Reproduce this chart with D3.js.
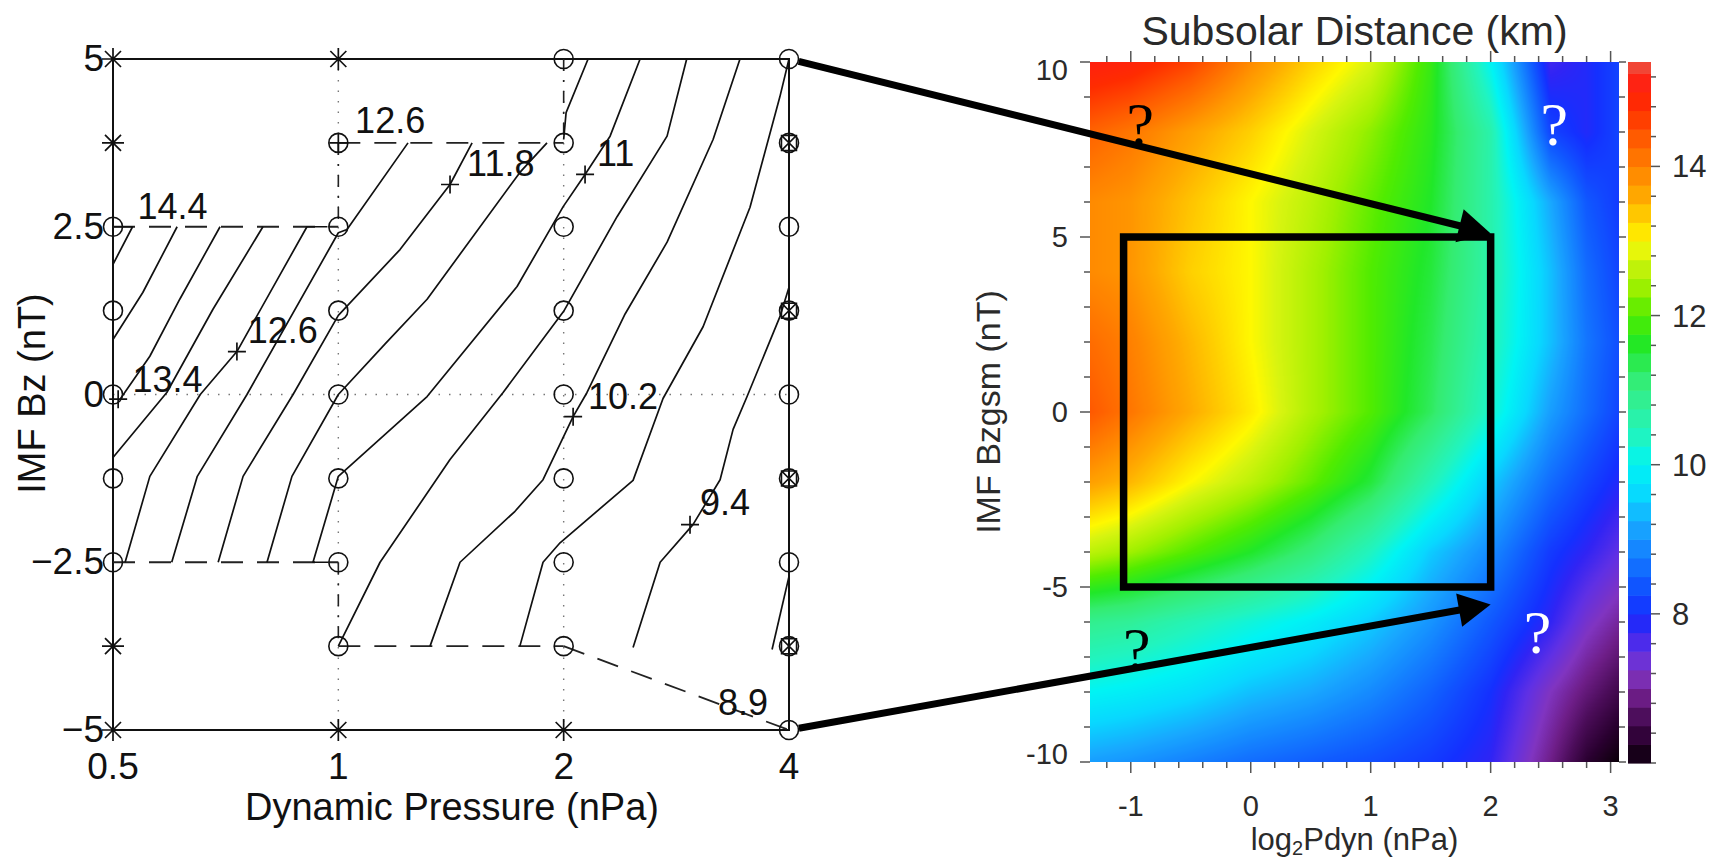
<!DOCTYPE html>
<html>
<head>
<meta charset="utf-8">
<script src="https://cdn.jsdelivr.net/npm/d3@7"></script>
<style>
  html, body { margin: 0; padding: 0; background: #fff; }
  svg { display: block; }
</style>
</head>
<body>
<svg id="fig" width="1720" height="860"></svg>
<script>
// ---------------------------------------------------------------
// Left panel: contour map of subsolar distance over the
// (dynamic pressure, IMF Bz) sampling grid.
// ---------------------------------------------------------------
const pressureTicks = [0.5, 1, 2, 4];
const pressureTickLabels = ["0.5", "1", "2", "4"];
const bzTicks = [5, 2.5, 0, -2.5, -5];
const bzTickLabels = ["5", "2.5", "0", "\u22122.5", "\u22125"];

// sampled runs: [pressure (nPa), Bz (nT)]
const starPts = [[0.5, 5], [0.5, 3.75], [0.5, -3.75], [0.5, -5], [1, 5], [1, -5], [2, -5]];
const circlePts = [
  [0.5, 2.5], [0.5, 1.25], [0.5, 0], [0.5, -1.25], [0.5, -2.5],
  [1, 2.5], [1, 1.25], [1, 0], [1, -1.25], [1, -2.5], [1, -3.75],
  [2, 5], [2, 3.75], [2, 2.5], [2, 1.25], [2, 0], [2, -1.25], [2, -2.5], [2, -3.75],
  [4, 5], [4, 2.5], [4, 0], [4, -2.5], [4, -5]
];
const circlePlusPts = [[1, 3.75]];
const circleBoxPts = [[4, 3.75], [4, 1.25], [4, -1.25], [4, -3.75]];

// contour polylines, [pressure, Bz]
const contour142 = [[0.5, 2.5], [0.531, 2.5], [0.5, 1.94]];
const contour138 = [[0.609, 2.5], [0.548, 1.52], [0.5, 0.82]];
const contour134 = [[0.695, 2.5], [0.614, 1.42], [0.560, 0.57], [0.511, -0.07]];
const contour130 = [[0.793, 2.5], [0.680, 1.27], [0.590, 0.03], [0.5, -0.94]];
const contour126 = [[0.967, 2.5], [0.908, 2.5], [0.732, 0.64], [0.654, 0], [0.560, -1.22], [0.519, -2.5]];
const contour122 = [[1.239, 3.75], [1.027, 2.46], [1.0, 2.41], [0.755, 0], [0.648, -1.22], [0.599, -2.5]];
const contour118 = [[1.509, 3.75], [1.410, 3.13], [1.209, 2.16], [1.0, 1.18], [0.870, 0], [0.746, -1.22], [0.691, -2.5]];
const contour114 = [[1.90, 3.75], [1.748, 3.31], [1.314, 1.42], [1.154, 0.75], [1.0, 0], [0.867, -1.22], [0.803, -2.5]];
const contour110 = [[2.53, 5], [2.307, 3.85], [2.136, 3.28], [1.997, 2.80], [1.733, 1.61], [1.314, -0.03], [1.0, -1.22], [0.925, -2.5], [0.97, -2.5]];
const contour106 = [[2.92, 5], [2.749, 3.85], [2.357, 2.65], [2.0, 1.24], [1.660, 0.03], [1.410, -0.97], [1.137, -2.5], [1.0, -3.75]];
const contour102 = [[3.44, 5], [3.167, 3.80], [2.749, 2.27], [2.416, 1.2], [2.149, 0.03], [2.059, -0.33], [1.877, -1.27], [1.722, -1.74], [1.454, -2.5], [1.326, -3.75]];
const contour098 = [[4, 5], [3.89, 4.44], [3.548, 2.79], [3.071, 1.01], [2.715, -0.06], [2.476, -1.28], [1.978, -2.21], [1.877, -2.5], [1.748, -3.75]];
const contour094 = [[4, 1.6], [3.89, 1.16], [3.516, -0.03], [3.368, -0.52], [3.236, -1.27], [2.977, -1.94], [2.691, -2.5], [2.476, -3.77]];
const contour090 = [[4, -2.71], [3.797, -3.80]];
const edgeTopRight = [[2.156, 5], [2.015, 4.2], [2.0, 3.8]];
const contourLines = [contour142, contour138, contour134, contour130, contour126, contour122,
  contour118, contour114, contour110, contour106, contour102, contour098, contour094, contour090, edgeTopRight];

// limits of the sampled region
const dashedEdges = [
  [[0.5, 2.5], [1, 2.5]],
  [[1, 3.75], [2, 3.75]],
  [[0.5, -2.5], [1, -2.5]],
  [[1, -3.75], [2, -3.75]],
  [[2, -3.75], [4, -5]]
];
const dashDotEdges = [
  [[1, 3.75], [1, 2.5]],
  [[1, -2.5], [1, -3.75]],
  [[2, 5], [2, 3.75]]
];

// contour labels: text, anchor (left / baseline) in data units
const labelText = ["14.4", "12.6", "13.4", "12.6", "11.8", "11", "10.2", "9.4", "8.9"];
const labelP = [0.539, 1.053, 0.531, 0.757, 1.486, 2.216, 2.156, 3.042, 3.216];
const labelBz = [2.61, 3.90, 0.03, 0.77, 3.25, 3.40, -0.22, -1.79, -4.77];
const labelMarks = [[0.508, -0.07], [0.732, 0.64], [1.410, 3.13], [2.136, 3.28], [2.059, -0.33], [2.95, -1.94]];

// ---------------------------------------------------------------
// Right panel: subsolar distance over log2 Pdyn and IMF Bz (GSM)
// ---------------------------------------------------------------
const logPGrid = [-1.34, -1, -0.5, 0, 0.5, 1, 1.5, 2, 2.5, 2.8, 3.07];
const bzGrid = [10, 8, 6, 4, 2, 0, -2, -4, -6, -8, -10];
const subsolarDistance = [
  [15.1, 15.0, 14.6, 13.9, 13.3, 12.8, 11.8, 10.0, 7.7, 7.9, 8.2],
  [14.3, 14.1, 13.7, 13.3, 12.8, 12.3, 11.7, 10.6, 8.2, 7.9, 8.2],
  [13.9, 13.8, 13.4, 13.0, 12.6, 12.1, 11.6, 10.6, 9.2, 8.4, 8.1],
  [13.9, 13.8, 13.3, 13.0, 12.5, 12.0, 11.5, 10.6, 9.4, 8.6, 8.2],
  [14.2, 14.0, 13.5, 13.0, 12.5, 12.0, 11.4, 10.5, 9.4, 8.7, 8.3],
  [14.4, 14.1, 13.6, 13.1, 12.5, 12.0, 11.3, 10.3, 9.1, 8.6, 8.2],
  [13.7, 13.5, 13.0, 12.6, 12.1, 11.5, 10.5, 9.5, 8.6, 8.2, 7.9],
  [12.6, 12.4, 12.0, 11.6, 11.1, 10.4, 9.5, 8.9, 8.1, 7.8, 7.5],
  [10.9, 10.8, 10.5, 10.2, 9.9, 9.5, 9.0, 8.4, 7.8, 7.3, 7.0],
  [10.0, 9.9, 9.7, 9.4, 9.2, 8.9, 8.5, 8.0, 7.2, 6.8, 6.5],
  [9.1, 9.0, 8.8, 8.6, 8.45, 8.3, 8.1, 7.8, 6.9, 6.3, 6.0]
];
const xTicksR = [-1, 0, 1, 2, 3];
const yTicksR = [10, 5, 0, -5, -10];
const cbarTicks = [14, 12, 10, 8];

const cmapValues = [6.0, 6.3, 6.6, 6.9, 7.2, 7.5, 7.8, 8.0, 8.4, 8.8, 9.2, 9.6, 10.0, 10.4, 10.8, 11.2,
  11.6, 12.0, 12.4, 12.8, 13.0, 13.3, 13.6, 14.0, 14.4, 14.8, 15.1, 15.4];
const cmapColors = ["#0a0008", "#2a0030", "#4a0c58", "#6e1e88", "#8034c0", "#6030e4", "#3024f4", "#1430ff",
  "#1058ff", "#1480ff", "#18a8ff", "#08d8ff", "#00f4f4", "#20f4c0", "#30f098", "#34ec70",
  "#20e828", "#50ec00", "#a0f000", "#d8f410", "#fff800", "#ffd000", "#ffaa00", "#ff8000",
  "#ff5800", "#ff2c00", "#ff2010", "#f04838"];

// selected box and the four open corners
const boxLogP = [-1.06, 2.0];
const boxBz = [-5, 5];
const qmLogP = [-0.92, 2.53, -0.95, 2.39];
const qmBz = [7.63, 7.63, -7.37, -6.89];
const qmFill = ["#000", "#fff", "#000", "#fff"];

// arrows from sampled corners to box corners
const arrowFrom = [[4, 5], [4, -5]];
const arrowTo = [[2, 5.1], [2, -5.5]];

// ---------------------------------------------------------------
const SANS = '"Liberation Sans", Arial, Helvetica, sans-serif';
const SERIF = '"Liberation Serif", "Times New Roman", serif';
const fig = d3.select("#fig");

// ===== left panel =====
const xL = d3.scaleLog().base(2).domain([0.5, 4]).range([113, 789]);
const yL = d3.scaleLinear().domain([-5, 5]).range([730, 59]);
const lineL = d3.line().x(d => xL(d[0])).y(d => yL(d[1]));
const L = fig.append("g");

// dotted reference lines
L.selectAll("line.gv").data([1, 2]).join("line")
  .attr("x1", d => xL(d)).attr("x2", d => xL(d))
  .attr("y1", yL(5)).attr("y2", yL(-5))
  .attr("stroke", "#777").attr("stroke-width", 1.4).attr("stroke-dasharray", "1.5,9");
L.append("line")
  .attr("x1", xL(0.5)).attr("x2", xL(4)).attr("y1", yL(0)).attr("y2", yL(0))
  .attr("stroke", "#777").attr("stroke-width", 1.4).attr("stroke-dasharray", "1.5,9");

// frame
L.append("rect")
  .attr("x", xL(0.5)).attr("y", yL(5))
  .attr("width", xL(4) - xL(0.5)).attr("height", yL(-5) - yL(5))
  .attr("fill", "none").attr("stroke", "#111").attr("stroke-width", 2);

// boundary of sampled region
L.selectAll("path.dash").data(dashedEdges).join("path")
  .attr("d", lineL).attr("fill", "none").attr("stroke", "#222")
  .attr("stroke-width", 1.8).attr("stroke-dasharray", "22,14");
L.selectAll("path.dashdot").data(dashDotEdges).join("path")
  .attr("d", lineL).attr("fill", "none").attr("stroke", "#222")
  .attr("stroke-width", 1.6).attr("stroke-dasharray", "12,9,2,9");

// contours
L.selectAll("path.contour").data(contourLines).join("path")
  .attr("d", lineL).attr("fill", "none").attr("stroke", "#111")
  .attr("stroke-width", 1.7).attr("stroke-linejoin", "round");

// markers
const R = 9.5;
L.selectAll("circle.run").data(circlePts.concat(circlePlusPts, circleBoxPts)).join("circle")
  .attr("cx", d => xL(d[0])).attr("cy", d => yL(d[1])).attr("r", R)
  .attr("fill", "none").attr("stroke", "#111").attr("stroke-width", 1.6);
L.selectAll("path.plus").data(circlePlusPts.concat(labelMarks)).join("path")
  .attr("d", d => {
    const x = xL(d[0]), y = yL(d[1]), r = 9;
    return `M${x - r},${y}H${x + r}M${x},${y - r}V${y + r}`;
  })
  .attr("stroke", "#111").attr("stroke-width", 1.7);
L.selectAll("path.box").data(circleBoxPts).join("path")
  .attr("d", d => {
    const x = xL(d[0]), y = yL(d[1]), r = 7.5;
    return `M${x - r},${y - r}H${x + r}V${y + r}H${x - r}Z` +
      `M${x - r},${y - r}L${x + r},${y + r}M${x + r},${y - r}L${x - r},${y + r}`;
  })
  .attr("fill", "none").attr("stroke", "#111").attr("stroke-width", 1.5);
L.selectAll("path.star").data(starPts).join("path")
  .attr("d", d => {
    const x = xL(d[0]), y = yL(d[1]), r = 11, q = 8;
    return `M${x},${y - r}V${y + r}M${x - r},${y}H${x + r}` +
      `M${x - q},${y - q}L${x + q},${y + q}M${x + q},${y - q}L${x - q},${y + q}`;
  })
  .attr("stroke", "#111").attr("stroke-width", 1.7);

// contour values
L.selectAll("text.lbl").data(labelText).join("text")
  .attr("x", (d, i) => xL(labelP[i])).attr("y", (d, i) => yL(labelBz[i]))
  .attr("font-family", SANS).attr("font-size", 36).attr("fill", "#111")
  .text(d => d);

// axes text
L.selectAll("text.yt").data(bzTicks).join("text")
  .attr("x", 104).attr("y", d => yL(d) + 12)
  .attr("text-anchor", "end").attr("font-family", SANS).attr("font-size", 37).attr("fill", "#111")
  .text((d, i) => bzTickLabels[i]);
L.selectAll("text.xt").data(pressureTicks).join("text")
  .attr("x", d => xL(d)).attr("y", 779)
  .attr("text-anchor", "middle").attr("font-family", SANS).attr("font-size", 37).attr("fill", "#111")
  .text((d, i) => pressureTickLabels[i]);
L.append("text")
  .attr("x", (xL(0.5) + xL(4)) / 2 + 1).attr("y", 820)
  .attr("text-anchor", "middle").attr("font-family", SANS).attr("font-size", 38).attr("fill", "#111")
  .text("Dynamic Pressure (nPa)");
L.append("text")
  .attr("transform", `translate(45,${yL(0) - 1}) rotate(-90)`)
  .attr("text-anchor", "middle").attr("font-family", SANS).attr("font-size", 38).attr("fill", "#111")
  .text("IMF Bz (nT)");

// ===== right panel =====
const xR = d3.scaleLinear().domain([-1.34, 3.07]).range([1090, 1619]);
const yR = d3.scaleLinear().domain([-10, 10]).range([762, 62]);
const cScale = d3.scaleLinear().domain(cmapValues).range(cmapColors)
  .interpolate(d3.interpolateRgb).clamp(true);

// shaded field: grid values blended across each cell, then coloured
const W = Math.round(xR.range()[1] - xR.range()[0]);
const H = Math.round(yR.range()[0] - yR.range()[1]);
const canvas = document.createElement("canvas");
canvas.width = W; canvas.height = H;
const ctx = canvas.getContext("2d");
const img = ctx.createImageData(W, H);
const ix = d3.scaleLinear().domain(logPGrid).range(d3.range(logPGrid.length)).clamp(true);
const iy = d3.scaleLinear().domain(bzGrid).range(d3.range(bzGrid.length)).clamp(true);
const vMin = cmapValues[0], vMax = cmapValues[cmapValues.length - 1];
const LUT = d3.range(1024).map(k => d3.rgb(cScale(vMin + (vMax - vMin) * k / 1023)));
const nx = logPGrid.length, ny = bzGrid.length;
for (let py = 0; py < H; py++) {
  const fy = iy(yR.invert(yR.range()[1] + py + 0.5));
  const j = Math.min(Math.floor(fy), ny - 2), ty = fy - j;
  const r0 = subsolarDistance[j], r1 = subsolarDistance[j + 1];
  for (let px = 0; px < W; px++) {
    const fx = ix(xR.invert(xR.range()[0] + px + 0.5));
    const i = Math.min(Math.floor(fx), nx - 2), tx = fx - i;
    const v = (1 - ty) * ((1 - tx) * r0[i] + tx * r0[i + 1]) + ty * ((1 - tx) * r1[i] + tx * r1[i + 1]);
    let k = Math.round((v - vMin) / (vMax - vMin) * 1023);
    k = Math.max(0, Math.min(1023, k));
    const c = LUT[k], o = (py * W + px) * 4;
    img.data[o] = c.r; img.data[o + 1] = c.g; img.data[o + 2] = c.b; img.data[o + 3] = 255;
  }
}
ctx.putImageData(img, 0, 0);
const Rg = fig.append("g");
Rg.append("image")
  .attr("x", xR.range()[0]).attr("y", yR.range()[1])
  .attr("width", W).attr("height", H)
  .attr("preserveAspectRatio", "none")
  .attr("href", canvas.toDataURL());

// ticks on all four sides
const tickCol = "#555";
const xMinor = d3.range(-1.2, 3.01, 0.2).map(v => Math.round(v * 10) / 10);
const yMinor = d3.range(-10, 10.01, 1);
const tickG = Rg.append("g").attr("stroke", tickCol).attr("stroke-width", 1.5);
xMinor.forEach(v => {
  const big = xTicksR.includes(v), len = big ? 11 : 6;
  tickG.append("line").attr("x1", xR(v)).attr("x2", xR(v)).attr("y1", yR(-10)).attr("y2", yR(-10) + len);
  tickG.append("line").attr("x1", xR(v)).attr("x2", xR(v)).attr("y1", yR(10)).attr("y2", yR(10) - len);
});
yMinor.forEach(v => {
  const big = yTicksR.includes(v), len = big ? 10 : 6;
  tickG.append("line").attr("x1", xR.range()[0]).attr("x2", xR.range()[0] - len).attr("y1", yR(v)).attr("y2", yR(v));
  tickG.append("line").attr("x1", xR.range()[1]).attr("x2", xR.range()[1] + Math.min(len, 7)).attr("y1", yR(v)).attr("y2", yR(v));
});

const txtCol = "#2a2a2a";
Rg.selectAll("text.xr").data(xTicksR).join("text")
  .attr("x", d => xR(d)).attr("y", 816)
  .attr("text-anchor", "middle").attr("font-family", SANS).attr("font-size", 29).attr("fill", txtCol)
  .text(d => String(d));
Rg.selectAll("text.yr").data(yTicksR).join("text")
  .attr("x", 1068)
  .attr("y", d => yR(d) + 10 + (d === 10 ? 8 : d === -10 ? -8 : 0))
  .attr("text-anchor", "end").attr("font-family", SANS).attr("font-size", 29).attr("fill", txtCol)
  .text(d => String(d));
Rg.append("text")
  .attr("x", (xR.range()[0] + xR.range()[1]) / 2).attr("y", 45)
  .attr("text-anchor", "middle").attr("font-family", SANS).attr("font-size", 41).attr("fill", txtCol)
  .text("Subsolar Distance (km)");
Rg.append("text")
  .attr("transform", `translate(1000,${yR(0)}) rotate(-90)`)
  .attr("text-anchor", "middle").attr("font-family", SANS).attr("font-size", 34).attr("fill", txtCol)
  .text("IMF Bzgsm (nT)");
const xl = Rg.append("text")
  .attr("x", (xR.range()[0] + xR.range()[1]) / 2).attr("y", 850)
  .attr("text-anchor", "middle").attr("font-family", SANS).attr("font-size", 31).attr("fill", txtCol);
xl.append("tspan").text("log");
xl.append("tspan").attr("font-size", 20).attr("dy", 5).text("2");
xl.append("tspan").attr("dy", -5).text("Pdyn (nPa)");

// colour bar
const yC = d3.scaleLinear().domain([vMin, vMax]).range([763, 62]);
const bandStep = 0.25;
const bands = d3.range(vMin, vMax, bandStep);
const cbX = 1628, cbW = 23;
Rg.selectAll("rect.band").data(bands).join("rect")
  .attr("x", cbX).attr("width", cbW)
  .attr("y", d => yC(Math.min(d + bandStep, vMax)))
  .attr("height", d => yC(d) - yC(Math.min(d + bandStep, vMax)) + 0.6)
  .attr("fill", d => cScale(Math.min(d + bandStep / 2, vMax)));
const cMinor = d3.range(6.0, 15.4, 0.4).map(v => Math.round(v * 10) / 10);
cMinor.forEach(v => {
  const big = cbarTicks.includes(v);
  tickG.append("line").attr("x1", cbX + cbW).attr("x2", cbX + cbW + (big ? 9 : 5))
    .attr("y1", yC(v)).attr("y2", yC(v));
});
Rg.selectAll("text.cb").data(cbarTicks).join("text")
  .attr("x", 1672).attr("y", d => yC(d) + 11)
  .attr("font-family", SANS).attr("font-size", 31).attr("fill", txtCol)
  .text(d => String(d));

// selected box
Rg.append("rect")
  .attr("x", xR(boxLogP[0])).attr("y", yR(boxBz[1]))
  .attr("width", xR(boxLogP[1]) - xR(boxLogP[0]))
  .attr("height", yR(boxBz[0]) - yR(boxBz[1]))
  .attr("fill", "none").attr("stroke", "#000").attr("stroke-width", 7.5);

// open corners
Rg.selectAll("text.qm").data(qmLogP).join("text")
  .attr("x", d => xR(d)).attr("y", (d, i) => yR(qmBz[i]))
  .attr("text-anchor", "middle").attr("font-family", SERIF).attr("font-size", 62)
  .attr("fill", (d, i) => qmFill[i])
  .text("?");

// arrows linking the two panels
const headLen = 32, headW = 34;
arrowFrom.forEach((a, k) => {
  const x0 = xL(a[0]), y0 = yL(a[1]);
  const x1 = xR(arrowTo[k][0]), y1 = yR(arrowTo[k][1]);
  const dx = x1 - x0, dy = y1 - y0, len = Math.hypot(dx, dy);
  const ux = dx / len, uy = dy / len;
  const sx = x0 + ux * 10, sy = y0 + uy * 10;
  const bx = x1 - ux * headLen, by = y1 - uy * headLen;
  fig.append("line").attr("x1", sx).attr("y1", sy).attr("x2", bx + ux * 2).attr("y2", by + uy * 2)
    .attr("stroke", "#000").attr("stroke-width", 7);
  fig.append("path")
    .attr("d", `M${x1},${y1}L${bx - uy * headW / 2},${by + ux * headW / 2}L${bx + uy * headW / 2},${by - ux * headW / 2}Z`)
    .attr("fill", "#000");
});
</script>
</body>
</html>
